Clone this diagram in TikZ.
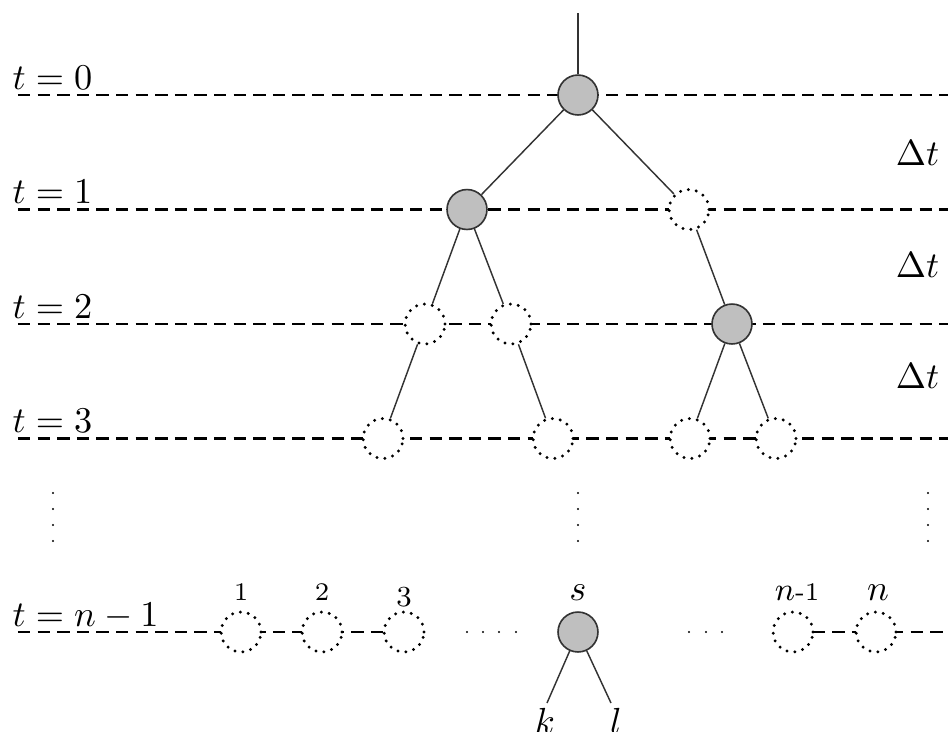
\documentclass[tikz,border=0pt]{standalone}
\begin{document}
\begin{tikzpicture}[x=0.2755pt,y=-0.2755pt,
  hline/.style={black, line width=0.6pt, dash pattern=on 3.4pt off 2pt},
  st/.style={circle, line width=0.45pt, minimum size=11pt, inner sep=0pt},
  gnode/.style={st, draw=black!80, fill=black!25},
  onode/.style={st, draw=black, fill=white, line width=0.9pt, dash pattern=on 0pt off 2.2pt, line cap=round},
  link/.style={draw=black!80, line width=0.4pt},
  lab/.style={inner sep=0pt, anchor=base},
  tlab/.style={inner sep=0pt, anchor=base west},
  dlab/.style={inner sep=0pt, anchor=base east}
]
\useasboundingbox (0,0) rectangle (948,731);

% time lines
\draw[hline] (18,95) -- (948,95);
\draw[hline] (18,209.5) -- (948,209.5);
\draw[hline] (18,324) -- (948,324);
\draw[hline] (18,438.5) -- (948,438.5);
\draw[hline] (18,632) -- (404,632);
\draw[hline] (793,632) -- (948,632);

% labels
\node[tlab] (t0) at (12,89) {$t=0$};
\node[tlab] (t1) at (12,203.5) {$t=1$};
\node[tlab] (t2) at (12,318) {$t=2$};
\node[tlab] (t3) at (12,432.5) {$t=3$};
\node[tlab] (tn) at (12,626) {$t=n-1$};
\node[dlab] (d1) at (940,165) {$\Delta t$};
\node[dlab] (d2) at (940,277) {$\Delta t$};
\node[dlab] (d3) at (940,388) {$\Delta t$};

% nodes
\coordinate (top) at (578,13);
\node[gnode] (r) at (578,95) {};
\node[gnode] (a) at (467,209.5) {};
\node[onode] (b) at (689,209.5) {};
\node[onode] (aa) at (425,324) {};
\node[onode] (ab) at (511,324) {};
\node[gnode] (ba) at (732,324) {};
\node[onode] (aaa) at (383,438.5) {};
\node[onode] (aba) at (553,438.5) {};
\node[onode] (baa) at (690,438.5) {};
\node[onode] (bab) at (776,438.5) {};

\node[onode] (n1) at (241,632) {};
\node[onode] (n2) at (322,632) {};
\node[onode] (n3) at (404,632) {};
\node[gnode] (s) at (578,632) {};
\node[onode] (nm) at (793,632) {};
\node[onode] (nn) at (876,632) {};

% edges
\draw[link] (top) -- (r);
\draw[link] (r) -- (a);
\draw[link] (r) -- (b);
\draw[link] (a) -- (aa);
\draw[link] (a) -- (ab);
\draw[link] (b) -- (ba);
\draw[link] (aa) -- (aaa);
\draw[link] (ab) -- (aba);
\draw[link] (ba) -- (baa);
\draw[link] (ba) -- (bab);

\coordinate (ke) at (547,703);
\coordinate (le) at (611,703);
\draw[link] (s) -- (ke);
\draw[link] (s) -- (le);

% bottom labels
\node[lab] (l1) at (241,600) {\scriptsize 1};
\node[lab] (l2) at (322,600) {\scriptsize 2};
\node[lab] (l3) at (404,606) {\footnotesize 3};
\node[lab] (ls) at (578,600) {$s$};
\node[lab] (lnm) at (797,600) {\small$n$\scriptsize-1};
\node[lab] (ln) at (878,600) {$n$};
\node[lab] (lk) at (545,733) {$k$};
\node[lab] (ll) at (616,733) {$l$};

% dots
\foreach \x in {53,578,928}
  \foreach \y in {493,509,525,541}
    \fill (\x,\y) circle (1.1);
\foreach \x in {467,483,499,516,689,706,722}
  \fill (\x,632) circle (1.1);
\end{tikzpicture}
\end{document}
